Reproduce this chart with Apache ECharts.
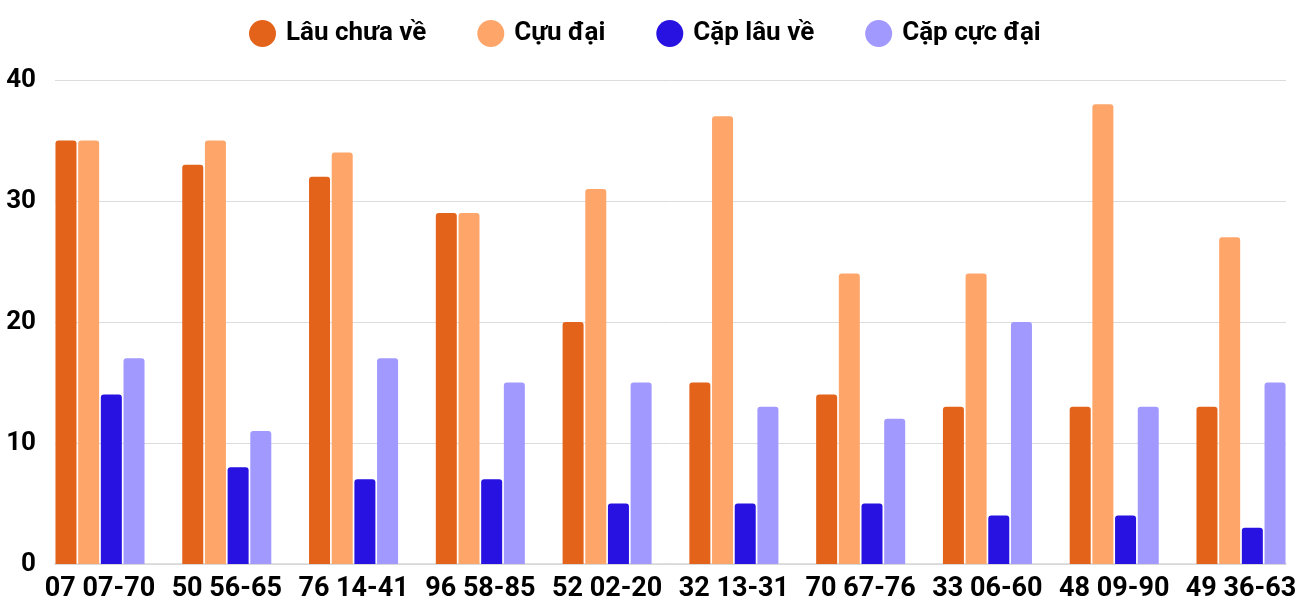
<!DOCTYPE html>
<html>
<head>
<meta charset="utf-8">
<script src="https://cdn.jsdelivr.net/npm/echarts@6/dist/echarts.min.js"></script>
<style>
  html, body { margin: 0; padding: 0; background: #fff; }
  #chartDiv { width: 1300px; height: 600px; }
</style>
</head>
<body>
<div id="chartDiv"></div>
<script>
// data
const categories = ['07 07-70', '50 56-65', '76 14-41', '96 58-85', '52 02-20', '32 13-31', '70 67-76', '33 06-60', '48 09-90', '49 36-63'];
const lauChuaVe = [35, 33, 32, 29, 20, 15, 14, 13, 13, 13];
const cuuDai = [35, 35, 34, 29, 31, 37, 24, 24, 38, 27];
const capLauVe = [14, 8, 7, 7, 5, 5, 5, 4, 4, 3];
const capCucDai = [17, 11, 17, 15, 15, 13, 12, 20, 13, 15];
const yTicks = [0, 10, 20, 30, 40];

const seriesNames = ['Lâu chưa về', 'Cựu đại', 'Cặp lâu về', 'Cặp cực đại'];
const seriesData = [lauChuaVe, cuuDai, capLauVe, capCucDai];
const colors = ['#E4631A', '#FEA56A', '#2812E2', '#A199FE'];

const chart = echarts.init(document.getElementById('chartDiv'));

const font = 'Roboto, sans-serif';

const options = {
  animation: false,
  textStyle: { fontFamily: font },
  legend: {
    top: 15,
    left: 244,
    itemWidth: 27,
    itemHeight: 27,
    itemGap: 51,
    icon: 'circle',
    textStyle: { fontSize: 26, fontWeight: 'bold', color: '#000', padding: [0, 0, 0, 5] },
    data: seriesNames
  },
  // grid 0 holds the value axis, gridlines and baseline; grid 1 places the bar groups
  grid: [
    { left: 55, right: 14, top: 80, bottom: 36, outerBoundsMode: 'none' },
    { left: 100, right: 59, top: 80, bottom: 36, outerBoundsMode: 'none' }
  ],
  xAxis: [
    {
      gridIndex: 0,
      type: 'value',
      min: 0,
      max: 1,
      axisLabel: { show: false },
      axisTick: { show: false },
      splitLine: { show: false },
      axisLine: { show: true, lineStyle: { color: '#d6d6d6', width: 1.5 } }
    },
    {
      gridIndex: 1,
      type: 'category',
      boundaryGap: false,
      data: categories,
      axisLine: { show: false },
      axisTick: { show: false },
      axisLabel: { interval: 0, fontSize: 27, fontWeight: 'bold', color: '#000', margin: 12 }
    }
  ],
  yAxis: [
    {
      gridIndex: 0,
      type: 'value',
      min: yTicks[0],
      max: yTicks[yTicks.length - 1],
      interval: 10,
      axisLine: { show: false },
      axisTick: { show: false },
      axisLabel: { fontSize: 26, fontWeight: 'bold', color: '#000', margin: 19 },
      splitLine: { lineStyle: { color: '#dcdcdc' } }
    },
    {
      gridIndex: 1,
      type: 'value',
      min: yTicks[0],
      max: yTicks[yTicks.length - 1],
      show: false,
      splitLine: { show: false }
    }
  ],
  series: seriesNames.map((name, i) => ({
    name: name,
    type: 'bar',
    xAxisIndex: 1,
    yAxisIndex: 1,
    clip: false,
    barWidth: 21,
    barGap: '8%',
    itemStyle: {
      color: colors[i],
      borderRadius: [3, 3, 0, 0]
    },
    data: seriesData[i]
  }))
};

chart.setOption(options);
</script>
</body>
</html>
